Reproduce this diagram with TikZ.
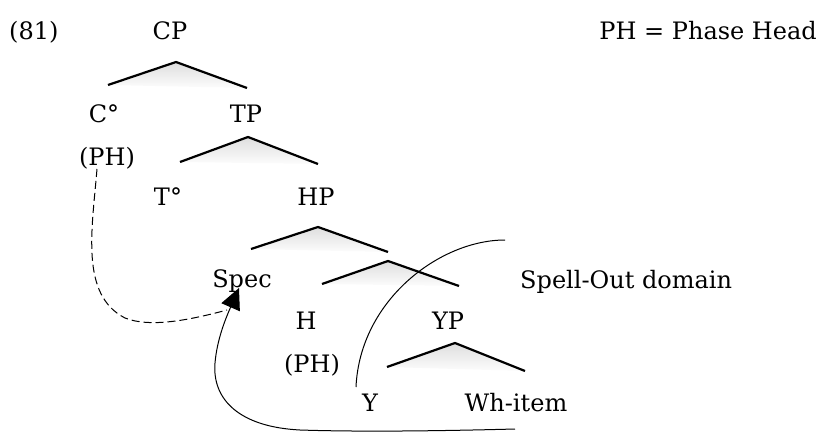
\documentclass[tikz,border=0pt]{standalone}
\usepackage{fontspec}
\setmainfont{DejaVu Serif}
\usetikzlibrary{arrows.meta}

\begin{document}
\begin{tikzpicture}[x=1pt,y=-1pt,
  lbl/.style={anchor=base,inner sep=0pt,font=\fontsize{24}{29}\selectfont},
  branch/.style={line width=2.2pt},
  shadowfill/.style={top color=black!13,bottom color=black!1,draw=none},
  movepath/.style={line width=1pt}]
\useasboundingbox (0,0) rectangle (822,433);
% Labels of the tree
\node[lbl,anchor=base west] (ex) at (9,40) {(81)};
\node[lbl] (cp) at (170,40) {CP};
\node[lbl,anchor=base east] (key) at (817,40) {PH = Phase Head};
\node[lbl] (c0) at (104,123) {C°};
\node[lbl] (tp) at (246,123) {TP};
\node[lbl] (cph) at (107,165) {(PH)};
\node[lbl] (t0) at (168,205) {T°};
\node[lbl] (hp) at (316,205) {HP};
\node[lbl] (spec) at (242,287) {Spec};
\node[lbl,anchor=base west] (sodom) at (520,288) {Spell-Out domain};
\node[lbl] (h) at (306,329) {H};
\node[lbl] (yp) at (448,329) {YP};
\node[lbl] (hph) at (312,372) {(PH)};
\node[lbl] (y) at (370,411) {Y};
\node[lbl] (wh) at (516,411) {Wh-item};
% Branches with their shadow
\foreach \n/\ax/\ay/\lx/\ly/\rx/\ry in {cp/176/62/108/85/247/88, tp/248/137/180/162/318/164,
    hp/318/227/251/249/388/252, hbar/388/261/322/284/459/286, yp/455/343/387/367/525/371} {
  \coordinate (\n-top) at (\ax,\ay);
  \coordinate (\n-l) at (\lx,\ly);
  \coordinate (\n-r) at (\rx,\ry);
  \shade[shadowfill] (\n-l) -- (\n-top) -- (\n-r) -- cycle;
  \draw[branch] (\n-l) -- (\n-top) -- (\n-r);
}
% Spell-Out boundary
\coordinate (so-top) at (505,240);
\coordinate (so-bot) at (356,387);
\draw[movepath] (so-top) .. controls (440,240) and (360,300) .. (so-bot);
% Movement to Spec
\coordinate (spec-in) at (239,288);
\coordinate (wh-out) at (515,429);
\coordinate (cph-out) at (97,169);
\coordinate (spec-dash) at (227,310);
\draw[movepath,-{Triangle[length=21pt,width=20pt]}] (wh-out)
  .. controls (440,431) and (360,432) .. (300,430)
  .. controls (240,427) and (212,400) .. (215,363)
  .. controls (217,340) and (225,320) .. (spec-in);
\draw[movepath,dash pattern=on 8pt off 4pt] (cph-out)
  .. controls (92,230) and (80,295) .. (125,318)
  .. controls (150,328) and (190,320) .. (spec-dash);
\end{tikzpicture}
\end{document}
